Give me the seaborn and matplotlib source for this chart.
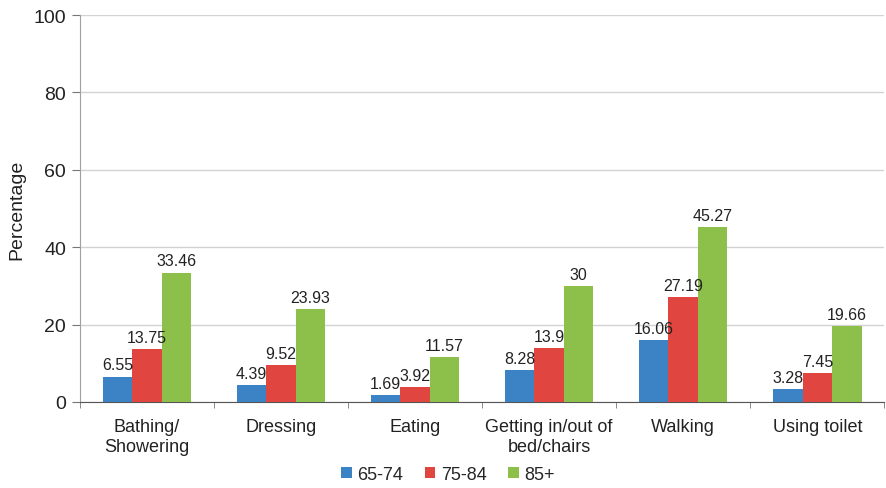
import pandas as pd
import numpy as np
import matplotlib
matplotlib.use("Agg")
import matplotlib.pyplot as plt
import seaborn as sns

categories = ["Bathing/\nShowering", "Dressing", "Eating", "Getting in/out of\nbed/chairs", "Walking", "Using toilet"]
age_groups = ["65-74", "75-84", "85+"]
vals_65_74 = [6.55, 4.39, 1.69, 8.28, 16.06, 3.28]
vals_75_84 = [13.75, 9.52, 3.92, 13.9, 27.19, 7.45]
vals_85 = [33.46, 23.93, 11.57, 30, 45.27, 19.66]
label_text = [
    ["6.55", "4.39", "1.69", "8.28", "16.06", "3.28"],
    ["13.75", "9.52", "3.92", "13.9", "27.19", "7.45"],
    ["33.46", "23.93", "11.57", "30", "45.27", "19.66"],
]
colors = ["#3b83c4", "#e0463f", "#8dc04a"]

df = pd.DataFrame({
    "Activity": categories * 3,
    "Age": [a for a in age_groups for _ in categories],
    "Percentage": vals_65_74 + vals_75_84 + vals_85,
})

sns.set_style("white")
plt.rcParams["font.family"] = ["Liberation Sans", "DejaVu Sans"]

fig = plt.figure(figsize=(8.87, 4.89), dpi=100)
ax = fig.add_axes([0.090, 0.176, 0.907, 0.791])

sns.barplot(data=df, x="Activity", y="Percentage", hue="Age", palette=colors,
            width=0.66, saturation=1, linewidth=0, ax=ax, zorder=3)

for cont, labs in zip(ax.containers, label_text):
    ax.bar_label(cont, labels=labs, padding=3, fontsize=11.5, color="#222222")

ax.set_ylim(0, 100)
ax.set_yticks([0, 20, 40, 60, 80, 100])
ax.set_xlim(-0.5, 5.5)
ax.yaxis.grid(True, color="#d2d2d2", linewidth=1, zorder=0)
ax.set_axisbelow(True)

for s in ["top", "right"]:
    ax.spines[s].set_visible(False)
ax.spines["left"].set_color("#a0a0a0")
ax.spines["bottom"].set_color("#555555")

ax.tick_params(axis="y", left=True, length=6, color="#777777", labelsize=14, colors="#222222", pad=4)
ax.tick_params(axis="x", bottom=False, labelsize=13, colors="#222222", pad=8)
ax.set_xticks(np.arange(-0.5, 6.0, 1.0), minor=True)
ax.tick_params(axis="x", which="minor", bottom=True, length=4, color="#777777")

ax.set_xlabel("")
ax.set_ylabel("Percentage", fontsize=14, color="#222222", labelpad=6)

ax.legend(loc="center", bbox_to_anchor=(0.505, 0.028), bbox_transform=fig.transFigure,
          ncol=3, frameon=False, fontsize=13, handlelength=0.6, handleheight=0.6,
          handletextpad=0.3, columnspacing=1.2)

fig.savefig("out.png", dpi=100)
